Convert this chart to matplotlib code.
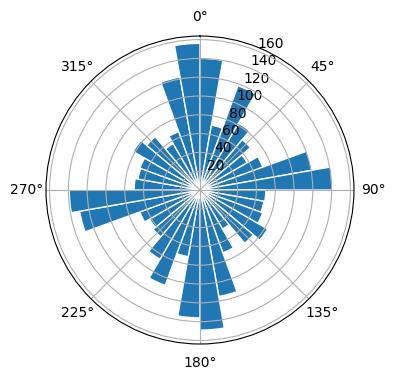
import numpy as np
import matplotlib
matplotlib.use("Agg")
import matplotlib.pyplot as plt

# bar heights, 10 degree sectors, clockwise from north
sector_start_deg = list(range(0, 360, 10))
counts = [
    140, 70, 118, 82, 70, 58, 71, 121, 141,      # 0 - 90
    70, 69, 71, 83, 74, 48, 71, 115, 149,        # 90 - 180
    136, 72, 108, 85, 65, 62, 68, 130, 139,      # 180 - 270
    70, 67, 68, 82, 74, 57, 66, 122, 156,        # 270 - 360
]
sector_width_deg = 10

fig = plt.figure(figsize=(3.96, 3.8), dpi=100)
ax = fig.add_axes([0.116, 0.0947, 0.778, 0.8105], projection="polar")
ax.set_theta_zero_location("N")
ax.set_theta_direction(-1)

theta = np.deg2rad(sector_start_deg)
width = np.deg2rad(sector_width_deg)
ax.bar(theta, counts, width=width, align="edge", color="C0", edgecolor="white", linewidth=1)

ax.set_yticks([20, 40, 60, 80, 100, 120, 140, 160])

fig.savefig("out.png", dpi=100)
